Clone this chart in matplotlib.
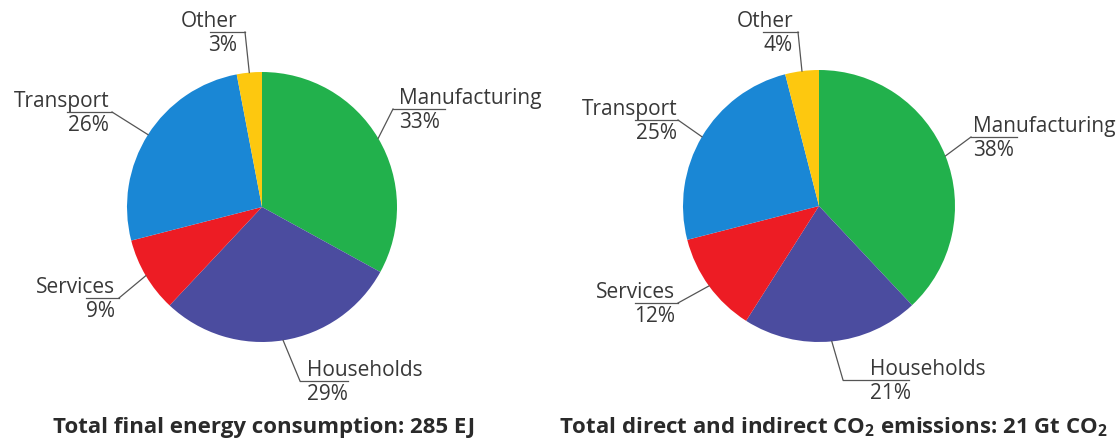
import numpy as np
import matplotlib.pyplot as plt

# fonts - bold CO2 subscript goes through mathtext
plt.rcParams['font.family'] = ['Open Sans', 'DejaVu Sans']
plt.rcParams['mathtext.fontset'] = 'custom'
plt.rcParams['mathtext.rm'] = 'Open Sans'
plt.rcParams['mathtext.bf'] = 'Open Sans:bold'
plt.rcParams['mathtext.default'] = 'bf'

# data (clockwise from 12 o'clock)
sectors = ["Manufacturing", "Households", "Services", "Transport", "Other"]
energy_share = [33, 29, 9, 26, 3]
co2_share = [38, 21, 12, 25, 4]
colors = ["#22b14c", "#4b4c9f", "#ed1c24", "#1a87d5", "#fdc80f"]

titles = ["Total final energy consumption: 285 EJ",
          "Total direct and indirect CO$_2$ emissions: 21 Gt CO$_2$"]

# label layout in pixels: (ha, text x, underline x0, underline x1, underline y)
layout_left = {
    "Manufacturing": ("left", 399, 393, 445, 109),
    "Households": ("left", 307, 300, 348, 381),
    "Services": ("right", 115, 86, 119, 298),
    "Transport": ("right", 109, 67, 112, 112),
    "Other": ("right", 237, 210, 245, 32),
}
layout_right = {
    "Manufacturing": ("left", 973, 971, 1017, 137),
    "Households": ("left", 870, 843, 909, 380),
    "Services": ("right", 675, 635, 678, 303),
    "Transport": ("right", 677, 635, 678, 120),
    "Other": ("right", 793, 763, 798, 32),
}

W, H = 1119, 445
fig = plt.figure(figsize=(W / 100, H / 100), dpi=100)

# overlay axes in pixel coords for labels
over = fig.add_axes([0, 0, 1, 1])
over.set_xlim(0, W)
over.set_ylim(H, 0)
over.axis("off")
over.set_zorder(5)
over.patch.set_alpha(0)

txt_col = "#383838"
line_col = "#555555"


def draw_pie(values, cx, cy, r, layout, title, title_x):
    ax = fig.add_axes([(cx - r) / W, (H - cy - r) / H, 2 * r / W, 2 * r / H])
    wedges, _ = ax.pie(values, colors=colors, startangle=90, counterclock=False,
                       radius=1, wedgeprops=dict(linewidth=0))
    ax.set_xlim(-1, 1)
    ax.set_ylim(-1, 1)
    ax.set_aspect("auto")

    fig.canvas.draw()
    for w, name, val in zip(wedges, sectors, values):
        ha, tx, ux0, ux1, uy = layout[name]
        mid = np.deg2rad((w.theta1 + w.theta2) / 2)
        disp = ax.transData.transform((np.cos(mid), np.sin(mid)))
        px, py = over.transData.inverted().transform(disp)
        # leader starts at underline end nearest the pie
        sx = ux1 if ha == "right" else ux0
        over.plot([ux0, ux1], [uy, uy], color=line_col, lw=0.9)
        over.plot([sx, px], [uy, py], color=line_col, lw=0.9)
        over.text(tx, uy - 5, name, ha=ha, va="baseline", fontsize=15, color=txt_col)
        over.text(tx, uy + 3, f"{val}%", ha=ha, va="top", fontsize=15, color=txt_col)

    over.text(title_x, 433, title, ha="center", va="baseline", fontsize=16,
              fontweight="bold", color="#2a2a2a")


draw_pie(energy_share, 262, 207, 135, layout_left, titles[0], 264)
draw_pie(co2_share, 819, 206, 136, layout_right, titles[1], 833)

fig.savefig("out.png", dpi=100, facecolor="white")
